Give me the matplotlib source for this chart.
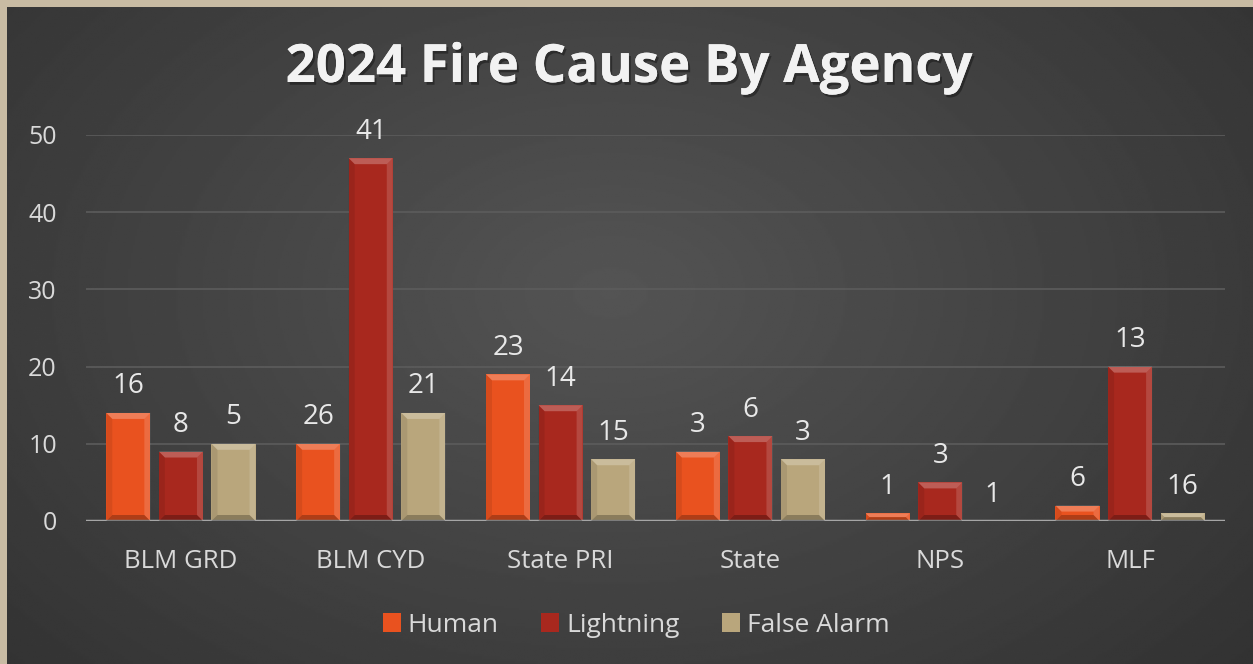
import numpy as np
import matplotlib.pyplot as plt
from matplotlib.patches import Polygon
import matplotlib.patheffects as pe

plt.rcParams['font.family'] = ['Open Sans', 'DejaVu Sans']

# data
agencies = ['BLM GRD', 'BLM CYD', 'State PRI', 'State', 'NPS', 'MLF']
series = ['Human', 'Lightning', 'False Alarm']
# bar heights as drawn
human = [14, 10, 19, 9, 1, 2]
lightning = [9, 47, 15, 11, 5, 20]
false_alarm = [10, 14, 8, 8, 0, 1]
# data labels as printed on the chart
human_lbl = [16, 26, 23, 3, 1, 6]
lightning_lbl = [8, 41, 14, 6, 3, 13]
false_alarm_lbl = [5, 21, 15, 3, 1, 16]

colors = ['#E9521F', '#A8281E', '#B9A67C']

W, H = 1253, 664
fig = plt.figure(figsize=(W / 100, H / 100), dpi=100)
fig.patch.set_facecolor('#C8BBA3')

# dark radial background, beige frame on top/left
bg = fig.add_axes([7 / W, 0, 1 - 7 / W, 1 - 7 / H])
yy, xx = np.mgrid[0:300, 0:600]
r = np.sqrt(((xx - 290) / 520) ** 2 + ((yy - 130) / 330) ** 2)
val = np.clip(0.33 - 0.17 * r, 0.16, 0.33)
bg.imshow(val, cmap='gray', vmin=0, vmax=1, aspect='auto', extent=[0, 1, 0, 1])
bg.set_axis_off()

ax = fig.add_axes([86 / W, 1 - 521 / H, (1225 - 86) / W, (521 - 135) / H])
ax.set_facecolor('none')
ax.set_xlim(-0.5, len(agencies) - 0.5)
ax.set_ylim(0, 50)

x = np.arange(len(agencies))
bw = 0.232
step = 0.277
vals = [human, lightning, false_alarm]
lbls = [human_lbl, lightning_lbl, false_alarm_lbl]

fig.canvas.draw()
bars_all = []
for i, (v, c, name) in enumerate(zip(vals, colors, series)):
    bars = ax.bar(x + (i - 1) * step, v, bw, color=c, label=name, zorder=3,
                  edgecolor='none')
    bars_all.append(bars)
    for b, lab in zip(bars, lbls[i]):
        ax.annotate(str(lab), (b.get_x() + b.get_width() / 2, b.get_height()),
                    xytext=(0, 9), textcoords='offset points', ha='center',
                    va='bottom', fontsize=20, color='#E8E8E8')

# bevel highlights drawn in pixel space
bev = 6
for bars in bars_all:
    for b in bars:
        if b.get_height() <= 0:
            continue
        x0, y0 = ax.transData.transform((b.get_x(), 0))
        x1, y1 = ax.transData.transform((b.get_x() + b.get_width(), b.get_height()))
        d = min(bev, (y1 - y0) / 2)
        polys = [
            ([(x0, y1), (x1, y1), (x1 - d, y1 - d), (x0 + d, y1 - d)], 'white', 0.25),
            ([(x1, y1), (x1, y0), (x1 - d, y0 + d), (x1 - d, y1 - d)], 'white', 0.15),
            ([(x0, y0), (x1, y0), (x1 - d, y0 + d), (x0 + d, y0 + d)], 'black', 0.25),
            ([(x0, y0), (x0, y1), (x0 + d, y1 - d), (x0 + d, y0 + d)], 'black', 0.08),
        ]
        for pts, col, a in polys:
            fig.add_artist(Polygon(pts, closed=True, transform=None, facecolor=col,
                                   alpha=a, edgecolor='none', zorder=4))

ax.set_yticks(range(0, 51, 10))
ax.yaxis.grid(True, color='#5C5C5C', lw=1.2, zorder=0)
ax.set_axisbelow(True)
ax.axhline(0, color='#A6A6A6', lw=2.5, zorder=5)
for s in ax.spines.values():
    s.set_visible(False)
ax.tick_params(axis='y', length=0, labelsize=18, labelcolor='#D9D9D9', pad=21)
ax.tick_params(axis='x', length=0, labelsize=18.5, labelcolor='#D9D9D9', pad=20)
ax.set_xticks(x)
ax.set_xticklabels(agencies)

fig.text(629 / W, 1 - 68 / H, '2024 Fire Cause By Agency', ha='center', va='center',
         fontsize=38, fontweight='bold', color='#F2F2F2',
         path_effects=[pe.withSimplePatchShadow(offset=(1.5, -2), shadow_rgbFace='black', alpha=0.35),
                       pe.Normal()])

leg = fig.legend(handles=[b[0] for b in bars_all], labels=series, loc='center',
                 bbox_to_anchor=(636 / W, 1 - 625 / H), ncol=3, frameon=False,
                 fontsize=19, labelcolor='#D9D9D9', handlelength=0.7, handleheight=0.7,
                 handletextpad=0.25, columnspacing=1.6)

fig.savefig('out.png', dpi=100, facecolor=fig.get_facecolor())
